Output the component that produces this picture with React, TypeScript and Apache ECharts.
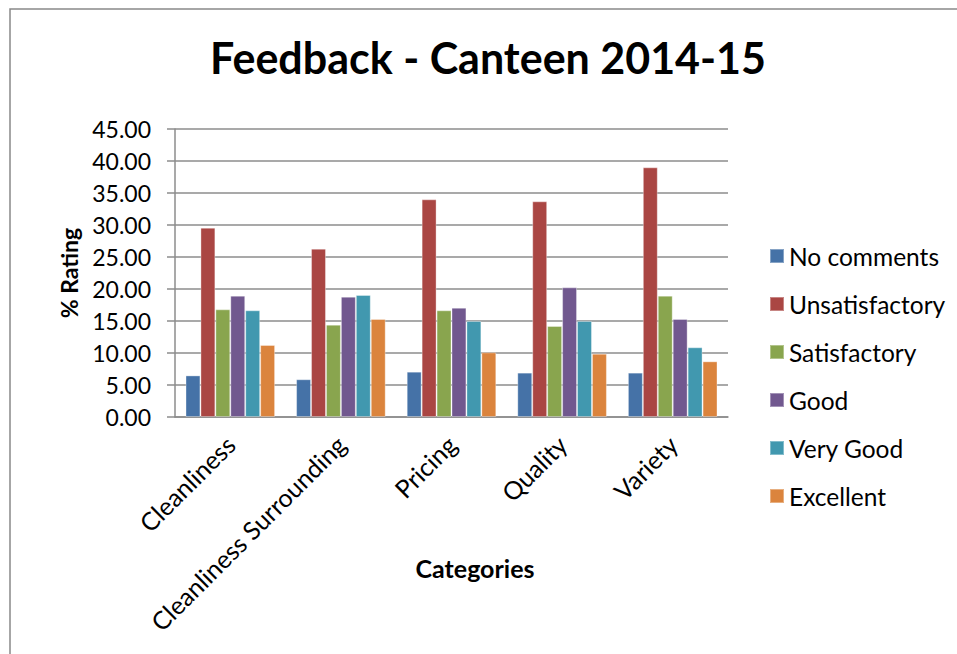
import React, { useEffect, useRef } from "react";
import * as echarts from "echarts";

const categories = ["Cleanliness", "Cleanliness Surrounding", "Pricing", "Quality", "Variety"];
const seriesNames = ["No comments", "Unsatisfactory", "Satisfactory", "Good", "Very Good", "Excellent"];
const noComments = [6.5, 5.9, 7.08, 6.93, 6.93];
const unsatisfactory = [29.58, 26.3, 34.01, 33.7, 39.01];
const satisfactory = [16.82, 14.43, 16.67, 14.22, 18.96];
const good = [18.96, 18.8, 17.08, 20.26, 15.31];
const veryGood = [16.67, 19.06, 15.0, 15.0, 10.89];
const excellent = [11.25, 15.31, 10.1, 9.9, 8.7];
const seriesValues = [noComments, unsatisfactory, satisfactory, good, veryGood, excellent];
const colors = ["#4572A7", "#AA4643", "#89A54E", "#71588F", "#4198AF", "#DB843D"];

const FONT = "Lato";

export default function App() {
  const ref = useRef<HTMLDivElement>(null);
  useEffect(() => {
    if (!ref.current) return;
    const chart = echarts.init(ref.current, null, { renderer: "svg" });
    chart.setOption({
      animation: false,
      backgroundColor: "#ffffff",
      color: colors,
      textStyle: { fontFamily: FONT },
      title: {
        text: "Feedback - Canteen 2014-15",
        left: 488,
        textAlign: "center",
        top: 36,
        textStyle: { fontFamily: FONT, fontWeight: "bold", fontSize: 43, color: "#000" },
        padding: 0,
      },
      graphic: [
        {
          type: "rect",
          shape: { x: 10, y: 9, width: 1000, height: 700 },
          style: { fill: "none", stroke: "#898989", lineWidth: 1.5 },
          silent: true,
        },
        {
          type: "text",
          x: 475,
          y: 568,
          style: {
            text: "Categories",
            fontFamily: FONT,
            fontWeight: "bold",
            fontSize: 25,
            fill: "#000",
            align: "center",
            verticalAlign: "middle",
          },
          silent: true,
        },
      ],
      legend: {
        orient: "vertical",
        left: 764,
        top: 238,
        itemWidth: 14,
        itemHeight: 14,
        itemGap: 22,
        icon: "rect",
        data: seriesNames,
        textStyle: { fontFamily: FONT, fontSize: 24.5, lineHeight: 26, color: "#000" },
      },
      grid: { left: 175, top: 129, right: 229, bottom: 237, containLabel: false },
      xAxis: {
        type: "category",
        data: categories,
        axisLine: { show: true, lineStyle: { color: "#8c8c8c", width: 1.5 } },
        axisTick: { show: false },
        axisLabel: { interval: 0, rotate: 45, margin: 23, fontFamily: FONT, fontSize: 25, color: "#000" },
      },
      yAxis: {
        type: "value",
        min: 0,
        max: 45,
        interval: 5,
        name: "% Rating",
        nameLocation: "middle",
        nameRotate: 90,
        nameGap: 95,
        nameTextStyle: { fontFamily: FONT, fontWeight: "bold", fontSize: 23, color: "#000" },
        axisLine: { show: true, lineStyle: { color: "#8c8c8c", width: 1.5 } },
        axisTick: { show: true, inside: false, length: 8, lineStyle: { color: "#8c8c8c", width: 1.5 } },
        splitLine: { show: true, lineStyle: { color: "#8c8c8c", width: 1.5 } },
        axisLabel: {
          margin: 24,
          fontFamily: FONT,
          fontSize: 23,
          color: "#000",
          formatter: (v: number) => v.toFixed(2),
        },
      },
      series: seriesNames.map((name, i) => ({
        name,
        type: "bar",
        data: seriesValues[i],
        barGap: "0%",
        barCategoryGap: "19%",
        itemStyle: { color: colors[i], borderColor: "rgba(255,255,255,0.35)", borderWidth: 1 },
      })),
    });
    return () => chart.dispose();
  }, []);
  return (
    <div
      ref={ref}
      style={{ position: "fixed", left: 0, top: 0, width: 957, height: 654, background: "#fff" }}
    />
  );
}
